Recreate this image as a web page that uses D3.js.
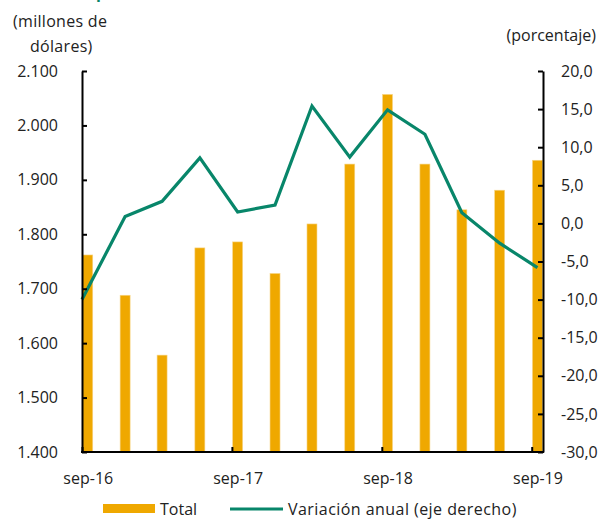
<!DOCTYPE html>
<meta charset="utf-8">
<style>
body { margin: 0; background: #fff; }
svg text { font-family: "Open Sans", sans-serif; font-size: 16px; fill: #222; }
</style>
<svg width="603" height="519"></svg>
<script src="https://d3js.org/d3.v7.min.js"></script>
<script>
// quarterly data, sep-16 .. sep-19
var quarters = ["2016-09-15","2016-12-15","2017-03-15","2017-06-15","2017-09-15","2017-12-15",
  "2018-03-15","2018-06-15","2018-09-15","2018-12-15","2019-03-15","2019-06-15","2019-09-15"];
var total = [1762, 1688, 1578, 1775, 1786, 1728, 1819, 1929, 2057, 1929, 1845, 1881, 1936];
// the line's first point sits on the left axis in the original
var lineDates = ["2016-09-01","2016-12-15","2017-03-15","2017-06-15","2017-09-15","2017-12-15",
  "2018-03-15","2018-06-15","2018-09-15","2018-12-15","2019-03-15","2019-06-15","2019-09-15"];
var variacion = [-10.0, 0.9, 2.9, 8.6, 1.5, 2.4, 15.4, 8.7, 14.9, 11.7, 1.4, -2.6, -5.8];

var leftTicks = [1400, 1500, 1600, 1700, 1800, 1900, 2000, 2100];
var rightTicks = [-30, -25, -20, -15, -10, -5, 0, 5, 10, 15, 20];
var xTicks = ["2016-09-01", "2017-09-01", "2018-09-01", "2019-09-01"];
var xLabels = ["sep-16", "sep-17", "sep-18", "sep-19"];

var svg = d3.select("svg"),
  plotL = 82, plotR = 543, plotT = 71, plotB = 452;

var parse = d3.utcParse("%Y-%m-%d");
var bars = quarters.map(function(q, i) { return {date: parse(q), total: total[i]}; });
var pts = lineDates.map(function(q, i) { return {date: parse(q), variacion: variacion[i]}; });

var x = d3.scaleUtc()
  .domain([parse("2016-09-01"), parse("2019-09-01")])
  .range([plotL, 531.7]);

var yL = d3.scaleLinear().domain([1400, 2100]).range([plotB, plotT]);
var yR = d3.scaleLinear().domain([-30, 20]).range([plotB, plotT]);

// bars
var barW = 10;
svg.append("g").selectAll("rect")
  .data(bars)
  .enter().append("rect")
  .attr("x", function(d) { return x(d.date) - barW / 2; })
  .attr("y", function(d) { return yL(d.total); })
  .attr("width", barW)
  .attr("height", function(d) { return plotB - yL(d.total); })
  .attr("fill", "#efa800")
  .attr("stroke", "#f7d68a")
  .attr("stroke-width", 0.6);

// line
var line = d3.line()
  .x(function(d) { return x(d.date); })
  .y(function(d) { return yR(d.variacion); });

svg.append("path")
  .datum(pts)
  .attr("d", line)
  .attr("fill", "none")
  .attr("stroke", "#08866a")
  .attr("stroke-width", 3.2);

// axes
var axL = svg.append("g")
  .attr("transform", "translate(" + plotL + ",0)")
  .call(d3.axisLeft(yL).tickValues(leftTicks).tickSizeInner(-5).tickSizeOuter(0).tickPadding(24)
    .tickFormat(function(d) { return (d / 1000).toFixed(3); }));

var axR = svg.append("g")
  .attr("transform", "translate(" + plotR + ",0)")
  .call(d3.axisRight(yR).tickValues(rightTicks).tickSizeInner(-5).tickSizeOuter(0).tickPadding(18)
    .tickFormat(function(d) { return d.toFixed(1).replace(".", ","); }));

var axB = svg.append("g")
  .attr("transform", "translate(0," + plotB + ")")
  .call(d3.axisBottom(x).tickValues(xTicks.map(parse)).tickSizeInner(-5).tickSizeOuter(0).tickPadding(21)
    .tickFormat(function(d, i) { return xLabels[i]; }));

// labels sit on the mid-month bar, ticks on the 1st
axB.selectAll(".tick text").attr("x", x(parse("2016-09-15")) - x(parse("2016-09-01")));

[axL, axR, axB].forEach(function(a) {
  a.attr("font-family", null).attr("font-size", null);
  a.selectAll("text").attr("fill", "#222");
  a.selectAll("line, path").attr("stroke", "#000").attr("stroke-width", 2);
});
axB.select(".domain").attr("d", "M" + (plotL - 1) + ",0H" + (plotR + 1));

// axis titles
svg.append("text").attr("x", 13).attr("y", 27).attr("letter-spacing", 0.3).text("(millones  de");
svg.append("text").attr("x", 30).attr("y", 52).attr("letter-spacing", 0.3).text("dólares)");
svg.append("text").attr("x", 596).attr("y", 41).attr("text-anchor", "end").text("(porcentaje)");

// cropped title remnant
svg.append("text").attr("x", 96).attr("y", -2).style("fill", "#08866a").style("font-weight", "bold").text("p");

// legend
var lg = svg.append("g");
lg.append("rect").attr("x", 103).attr("y", 504).attr("width", 52).attr("height", 9).attr("fill", "#efa800");
lg.append("text").attr("x", 160).attr("y", 514.5).text("Total");
lg.append("line").attr("x1", 230).attr("x2", 283).attr("y1", 509).attr("y2", 509)
  .attr("stroke", "#08866a").attr("stroke-width", 3.2);
lg.append("text").attr("x", 288).attr("y", 514.5).attr("letter-spacing", 0.45)
  .text("Variación anual (eje derecho)");
</script>
